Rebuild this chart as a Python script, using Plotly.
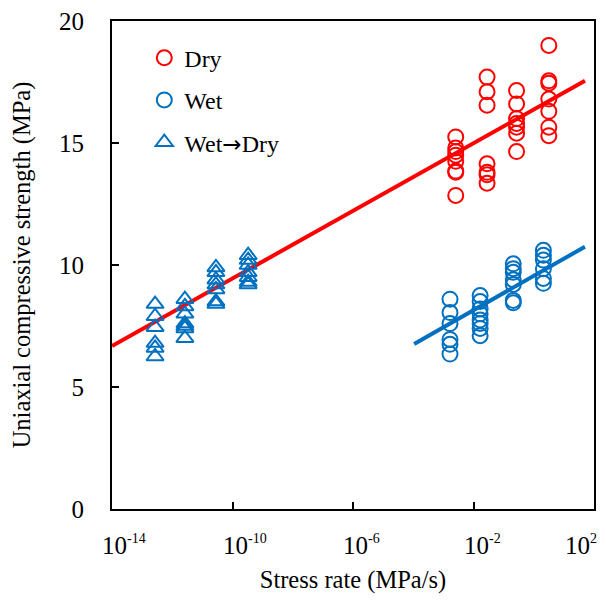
import math
import plotly.graph_objects as go

# ---- data ----
dry_x = [10**-2.59]*8 + [10**-1.55]*7 + [10**-0.57]*7 + [10**0.50]*7
dry_y = [15.25, 14.8, 14.65, 14.5, 14.25, 13.85, 13.8, 12.85,
         17.7, 17.1, 16.55, 14.15, 13.8, 13.7, 13.35,
         17.15, 16.6, 16.0, 15.8, 15.65, 15.4, 14.65,
         19.0, 17.55, 17.45, 16.8, 16.3, 15.65, 15.3]

wet_x = [10**-2.78]*6 + [10**-1.78]*8 + [10**-0.68]*7 + [10**0.32]*6
wet_y = [8.6, 8.05, 7.6, 6.95, 6.75, 6.35,
         8.75, 8.5, 8.2, 8.0, 7.75, 7.6, 7.4, 7.1,
         10.05, 9.85, 9.7, 9.4, 9.2, 8.55, 8.45,
         10.6, 10.4, 10.2, 9.85, 9.45, 9.25]

wd_x = [10**-12.57]*6 + [10**-11.58]*7 + [10**-10.55]*7 + [10**-9.48]*7
wd_y = [8.4, 7.9, 7.45, 6.8, 6.6, 6.25,
        8.6, 8.3, 8.0, 7.6, 7.5, 7.4, 7.0,
        9.9, 9.7, 9.4, 9.2, 9.0, 8.5, 8.4,
        10.4, 10.2, 10.0, 9.7, 9.5, 9.3, 9.2]

dry_fit_x = [1e-14, 10**1.70]
dry_fit_y = [6.68, 17.55]
wet_fit_x = [10**-3.97, 10**1.70]
wet_fit_y = [6.76, 10.75]

x_tickvals = [1e-14, 1e-10, 1e-6, 1e-2, 1e2]
x_tickexp = ["-14", "-10", "-6", "-2", "2"]
y_tickvals = [0, 5, 10, 15, 20]

RED = "#FF0000"
BLUE = "#0070C0"
FONT = "Liberation Serif"

fig = go.Figure()
fig.add_trace(go.Scatter(x=dry_fit_x, y=dry_fit_y, mode="lines",
                         line=dict(color=RED, width=4), showlegend=False))
fig.add_trace(go.Scatter(x=wet_fit_x, y=wet_fit_y, mode="lines",
                         line=dict(color=BLUE, width=4), showlegend=False))
fig.add_trace(go.Scatter(x=dry_x, y=dry_y, mode="markers", name="Dry", legendgroup="a",
                         marker=dict(symbol="circle-open", size=15, color=RED,
                                     line=dict(width=2, color=RED))))
fig.add_trace(go.Scatter(x=wet_x, y=wet_y, mode="markers", name="Wet", legendgroup="b",
                         marker=dict(symbol="circle-open", size=15, color=BLUE,
                                     line=dict(width=2, color=BLUE))))
fig.add_trace(go.Scatter(x=wd_x, y=wd_y, mode="markers",
                         name="Wet<span style='font-family:DejaVu Sans;font-size:23px'>→</span>Dry",
                         legendgroup="c",
                         marker=dict(symbol="triangle-up-open", size=15, color=BLUE,
                                     line=dict(width=2, color=BLUE))))

# x tick labels as annotations: the "10" is centred on the tick, exponent to the right
for i, (v, e) in enumerate(zip(x_tickvals, x_tickexp)):
    last = i == len(x_tickvals) - 1
    fig.add_annotation(
        x=math.log10(v), xref="x", y=0, yref="paper", yanchor="top", yshift=-20,
        xanchor="right" if last else "left", xshift=5 if last else -12,
        text="10<sup><span style='font-size:14px'>%s</span></sup>" % e,
        showarrow=False, font=dict(family=FONT, size=25, color="black"))

fig.update_layout(
    width=598, height=597,
    margin=dict(l=104, r=12, t=13, b=96, autoexpand=False),
    paper_bgcolor="white", plot_bgcolor="white",
    font=dict(family=FONT, size=24, color="black"),
    legend=dict(x=0.067, y=0.97, xanchor="left", yanchor="top",
                traceorder="grouped", tracegroupgap=8,
                bgcolor="rgba(0,0,0,0)", font=dict(size=24)),
    xaxis=dict(type="log", range=[-14, 2], tickvals=x_tickvals,
               showticklabels=False, automargin=False,
               ticks="inside", ticklen=7, tickwidth=2, tickcolor="black",
               showline=True, linecolor="black", linewidth=2, mirror=True,
               showgrid=False, zeroline=False,
               title=dict(text="Stress rate (MPa/s)", standoff=61,
                          font=dict(size=24.5))),
    yaxis=dict(range=[0, 20], tickvals=y_tickvals, automargin=False,
               ticks="inside", ticklen=7, tickwidth=2, tickcolor="black",
               showline=True, linecolor="black", linewidth=2, mirror=True,
               showgrid=False, zeroline=False, ticklabelstandoff=21,
               ticklabeloverflow="allow", tickfont=dict(size=25),
               title=dict(text="Uniaxial compressive strength (MPa)", standoff=24,
                          font=dict(size=24.5))),
)

fig.write_html("out.html")
